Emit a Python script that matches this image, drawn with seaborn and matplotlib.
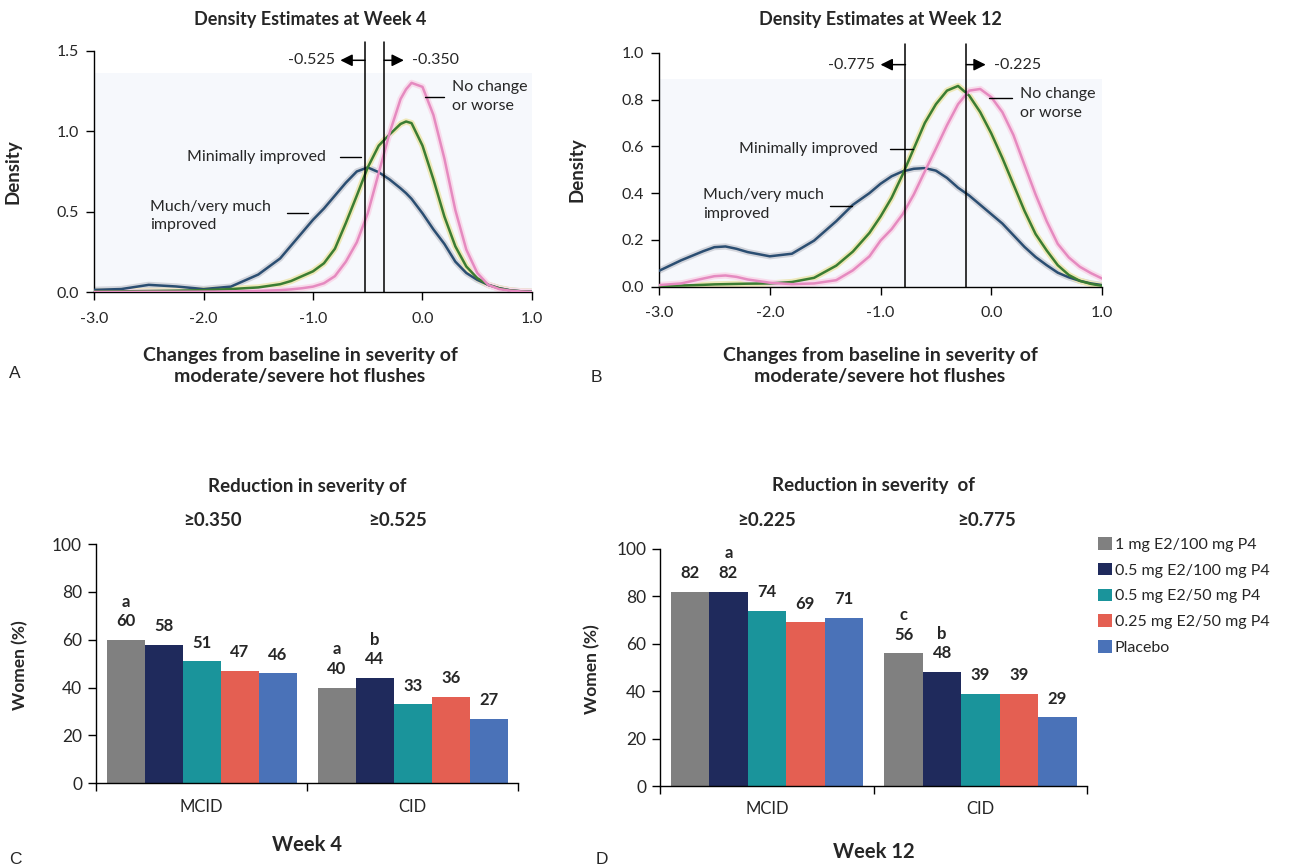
import pandas as pd
import seaborn as sns
import matplotlib.pyplot as plt

sns.set_style('ticks')
plt.rcParams['font.family'] = ['Lato', 'DejaVu Sans']

# ---- density curves, week 4 ----
x_wk4 = [-3, -2.75, -2.5, -2.25, -2, -1.75, -1.5, -1.3, -1.2, -1.1, -1.0, -0.9, -0.8, -0.7,
         -0.6, -0.5, -0.4, -0.3, -0.2, -0.15, -0.1, 0, 0.1, 0.2, 0.3, 0.4, 0.5, 0.6, 0.7, 0.8, 0.9, 1.0]
much_wk4 = [0.015, 0.02, 0.046, 0.036, 0.02, 0.035, 0.11, 0.21, 0.29, 0.37, 0.45, 0.52, 0.60, 0.68,
            0.75, 0.775, 0.745, 0.70, 0.645, 0.615, 0.58, 0.49, 0.39, 0.30, 0.19, 0.12, 0.077, 0.046,
            0.025, 0.012, 0.006, 0.003]
minimal_wk4 = [0.005, 0.006, 0.008, 0.01, 0.013, 0.02, 0.03, 0.05, 0.07, 0.10, 0.13, 0.18, 0.27, 0.43,
               0.60, 0.775, 0.91, 0.98, 1.045, 1.06, 1.05, 0.91, 0.70, 0.47, 0.285, 0.16, 0.088, 0.046,
               0.025, 0.012, 0.006, 0.003]
nochange_wk4 = [0.002, 0.002, 0.003, 0.003, 0.004, 0.005, 0.008, 0.013, 0.018, 0.025, 0.035, 0.056, 0.10,
                0.19, 0.31, 0.49, 0.74, 0.99, 1.20, 1.26, 1.30, 1.275, 1.10, 0.83, 0.51, 0.265, 0.12,
                0.046, 0.02, 0.01, 0.005, 0.002]

# ---- density curves, week 12 ----
x_wk12 = [-3, -2.8, -2.6, -2.5, -2.4, -2.3, -2.2, -2.0, -1.8, -1.6, -1.4, -1.25, -1.1, -1.0, -0.9,
          -0.8, -0.7, -0.6, -0.5, -0.4, -0.3, -0.2, -0.1, 0, 0.1, 0.2, 0.3, 0.4, 0.5, 0.6, 0.7, 0.8, 0.9, 1.0]
much_wk12 = [0.068, 0.113, 0.152, 0.169, 0.172, 0.162, 0.148, 0.13, 0.141, 0.197, 0.28, 0.35, 0.40,
             0.44, 0.472, 0.493, 0.504, 0.507, 0.496, 0.465, 0.423, 0.39, 0.35, 0.31, 0.27, 0.22, 0.17,
             0.127, 0.092, 0.06, 0.04, 0.025, 0.014, 0.007]
minimal_wk12 = [0.003, 0.005, 0.008, 0.01, 0.011, 0.012, 0.013, 0.014, 0.02, 0.038, 0.09, 0.15, 0.23,
                0.30, 0.38, 0.48, 0.59, 0.70, 0.78, 0.838, 0.858, 0.817, 0.746, 0.655, 0.55, 0.437,
                0.324, 0.225, 0.155, 0.092, 0.05, 0.025, 0.012, 0.004]
nochange_wk12 = [0.007, 0.014, 0.035, 0.045, 0.048, 0.042, 0.031, 0.017, 0.011, 0.014, 0.028, 0.07, 0.13,
                 0.197, 0.246, 0.31, 0.394, 0.493, 0.59, 0.69, 0.78, 0.838, 0.845, 0.81, 0.746, 0.648,
                 0.52, 0.394, 0.28, 0.183, 0.125, 0.085, 0.058, 0.035]

groups = ['Much/very much improved', 'Minimally improved', 'No change or worse']
core_pal = {'Much/very much improved': '#2b4e72', 'Minimally improved': '#3b7d32',
            'No change or worse': '#e58ac0'}
halo_pal = {'Much/very much improved': '#d3d5dc', 'Minimally improved': '#eee8b8',
            'No change or worse': '#f8dbeb'}

# ---- bar data ----
measures = ['MCID', 'CID']
treatments = ['1 mg E2/100 mg P4', '0.5 mg E2/100 mg P4', '0.5 mg E2/50 mg P4',
              '0.25 mg E2/50 mg P4', 'Placebo']
bar_colors = ['#808080', '#1f2a5c', '#1a949b', '#e45f52', '#4a72b8']
wk4_mcid = [60, 58, 51, 47, 46]
wk4_cid = [40, 44, 33, 36, 27]
wk4_mcid_sig = ['a', '', '', '', '']
wk4_cid_sig = ['a', 'b', '', '', '']
wk12_mcid = [82, 82, 74, 69, 71]
wk12_cid = [56, 48, 39, 39, 29]
wk12_mcid_sig = ['', 'a', '', '', '']
wk12_cid_sig = ['c', 'b', '', '', '']

fig = plt.figure(figsize=(12.95, 8.67), dpi=100)


def density_df(x, a, b, c):
    frames = []
    for g, y in zip(groups, [a, b, c]):
        frames.append(pd.DataFrame({'x': x, 'density': y, 'group': g}))
    return pd.concat(frames, ignore_index=True)


def density_panel(rect, df, ymax, ystep, shade_top, cut_left, cut_right, line_top, arrow_y,
                  left_tip, right_tip, labels):
    ax = fig.add_axes(rect)
    ax.axhspan(0, shade_top, facecolor='#f6f8fc', edgecolor='none', zorder=0)
    sns.lineplot(data=df, x='x', y='density', hue='group', palette=halo_pal, lw=4.5,
                 legend=False, ax=ax, zorder=2)
    sns.lineplot(data=df, x='x', y='density', hue='group', palette=core_pal, lw=1.8,
                 legend=False, ax=ax, zorder=3)
    ax.set_xlim(-3, 1)
    ax.set_ylim(0, ymax)
    ax.set_xticks([-3, -2, -1, 0, 1])
    ax.set_xticklabels(['-3.0', '-2.0', '-1.0', '0.0', '1.0'])
    yt = [round(i * ystep, 2) for i in range(int(round(ymax / ystep)) + 1)]
    ax.set_yticks(yt)
    ax.set_yticklabels([f'{v:.1f}' for v in yt])
    ax.tick_params(axis='both', labelsize=11.5, length=6, width=1, color='black', direction='out')
    ax.tick_params(axis='x', pad=8)
    ax.tick_params(axis='y', pad=5)
    for s in ['top', 'right']:
        ax.spines[s].set_visible(False)
    for s in ['left', 'bottom']:
        ax.spines[s].set_color('black')
        ax.spines[s].set_linewidth(1)
    ax.set_xlabel('')
    ax.set_ylabel('Density', fontsize=13.5, fontweight='bold')
    ax.yaxis.set_label_coords(-0.165, 0.5)
    # cut-off lines and arrows
    for cx in [cut_left, cut_right]:
        ax.plot([cx, cx], [0, line_top], color='black', lw=1.1, clip_on=False, zorder=4)
    arrow = dict(arrowstyle='-|>', color='black', lw=1.1, mutation_scale=18, shrinkA=0, shrinkB=0)
    ax.annotate('', xy=(left_tip, arrow_y), xytext=(cut_left, arrow_y), arrowprops=arrow,
                annotation_clip=False)
    ax.annotate('', xy=(right_tip, arrow_y), xytext=(cut_right, arrow_y), arrowprops=arrow,
                annotation_clip=False)
    ax.text(left_tip - 0.05, arrow_y, f'{cut_left:.3f}', ha='right', va='center', fontsize=11.5)
    ax.text(right_tip + 0.07, arrow_y, f'{cut_right:.3f}', ha='left', va='center', fontsize=11.5)
    # curve labels with leader lines
    for text, tx, ty, ha, lx0, lx1, ly in labels:
        ax.text(tx, ty, text, ha=ha, va='center', fontsize=11.5, linespacing=1.4)
        ax.plot([lx0, lx1], [ly, ly], color='black', lw=1.0, zorder=4)
    return ax


# panel A
df4 = density_df(x_wk4, much_wk4, minimal_wk4, nochange_wk4)
axA = density_panel([0.0726, 0.6629, 0.3382, 0.2787], df4, 1.5, 0.5, 1.36, -0.525, -0.350, 1.556, 1.44,
                    -0.75, -0.17,
                    [('No change\nor worse', 0.27, 1.215, 'left', 0.02, 0.195, 1.21),
                     ('Minimally improved', -0.88, 0.84, 'right', -0.75, -0.565, 0.84),
                     ('Much/very much\nimproved', -2.49, 0.475, 'left', -1.24, -1.05, 0.49)])
fig.text(310 / 1295, 0.978, 'Density Estimates at Week 4', ha='center', va='center',
         fontsize=13, fontweight='bold')
fig.text(300 / 1295, 1 - 366 / 867, 'Changes from baseline in severity of\nmoderate/severe hot flushes',
         ha='center', va='center', fontsize=14, fontweight='bold', linespacing=1.3)

# panel B
df12 = density_df(x_wk12, much_wk12, minimal_wk12, nochange_wk12)
axB = density_panel([0.5089, 0.6693, 0.3421, 0.2699], df12, 1.0, 0.2, 0.886, -0.775, -0.225, 1.036, 0.949,
                    -1.0, -0.05,
                    [('No change\nor worse', 0.255, 0.783, 'left', -0.018, 0.19, 0.807),
                     ('Minimally improved', -1.02, 0.59, 'right', -0.917, -0.71, 0.59),
                     ('Much/very much\nimproved', -2.6, 0.352, 'left', -1.456, -1.254, 0.346)])
fig.text(880 / 1295, 0.978, 'Density Estimates at Week 12', ha='center', va='center',
         fontsize=13, fontweight='bold')
fig.text(880 / 1295, 1 - 366 / 867, 'Changes from baseline in severity of\nmoderate/severe hot flushes',
         ha='center', va='center', fontsize=14, fontweight='bold', linespacing=1.3)


def bar_panel(rect, mcid, cid, mcid_sig, cid_sig, head, thresholds, thr_x, head_y, thr_y, week, week_y,
              ylab_x):
    ax = fig.add_axes(rect)
    df = pd.DataFrame({
        'measure': [m for m in measures for _ in treatments],
        'treatment': treatments * 2,
        'pct': mcid + cid,
        'sig': mcid_sig + cid_sig,
    })
    sns.barplot(data=df, x='measure', y='pct', hue='treatment', hue_order=treatments,
                palette=bar_colors, width=0.9, saturation=1, legend=False, ax=ax,
                edgecolor='none', linewidth=0)
    for i, cont in enumerate(ax.containers):
        for j, bar in enumerate(cont):
            xc = bar.get_x() + bar.get_width() / 2
            h = bar.get_height()
            sub = df[(df.treatment == treatments[i]) & (df.measure == measures[j])].iloc[0]
            ax.annotate(f'{sub.pct}', (xc, h), xytext=(0, 13.5), textcoords='offset points',
                        ha='center', va='center', fontsize=12, fontweight='bold')
            if sub.sig:
                ax.annotate(sub.sig, (xc, h), xytext=(0, 27.5), textcoords='offset points',
                            ha='center', va='center', fontsize=12, fontweight='bold')
    ax.set_xlim(-0.5, 1.5)
    ax.set_ylim(0, 100)
    ax.set_yticks(range(0, 101, 20))
    ax.set_xticks([0, 1])
    ax.set_xticklabels(measures)
    ax.set_xticks([-0.5, 0.5, 1.5], minor=True)
    ax.tick_params(axis='x', which='major', length=0, pad=11, labelsize=12)
    ax.tick_params(axis='x', which='minor', length=6, width=1, color='black', direction='out')
    ax.tick_params(axis='y', length=6, width=1, color='black', direction='out', labelsize=12.5, pad=4)
    for s in ['top', 'right']:
        ax.spines[s].set_visible(False)
    for s in ['left', 'bottom']:
        ax.spines[s].set_color('black')
        ax.spines[s].set_linewidth(1)
    ax.set_xlabel('')
    ax.set_ylabel('Women (%)', fontsize=12.5, fontweight='bold')
    ax.yaxis.set_label_coords(ylab_x, 0.494)
    ax.text(0.5, head_y, head, transform=ax.transAxes, ha='center', va='center',
            fontsize=13.5, fontweight='bold')
    for t, tx in zip(thresholds, thr_x):
        ax.text(tx, thr_y, t, transform=ax.get_xaxis_transform(), ha='center', va='center',
                fontsize=13.5, fontweight='bold')
    ax.text(0.5, week_y, week, transform=ax.transAxes, ha='center', va='center',
            fontsize=14.5, fontweight='bold')
    return ax


axC = bar_panel([0.0741, 0.0965, 0.3261, 0.276], wk4_mcid, wk4_cid, wk4_mcid_sig, wk4_cid_sig,
                'Reduction in severity of', ['≥0.350', '≥0.525'], [0.05, 0.93], 1.239, 1.10,
                'Week 4', -0.258, -0.16)
axD = bar_panel([0.5097, 0.0934, 0.33, 0.2734], wk12_mcid, wk12_cid, wk12_mcid_sig, wk12_cid_sig,
                'Reduction in severity  of', ['≥0.225', '≥0.775'], [0.0, 1.03], 1.266, 1.122,
                'Week 12', -0.278, -0.14)

handles = [plt.Rectangle((0, 0), 1, 1, facecolor=c, edgecolor='none') for c in bar_colors]
fig.legend(handles, treatments, loc='upper left', bbox_to_anchor=(1098 / 1295, 1 - 537 / 867),
           frameon=False, fontsize=11.5, handlelength=0.85, handleheight=0.85, handletextpad=0.2,
           labelspacing=0.68, borderpad=0, borderaxespad=0)

# panel letters
for letter, px, py in [('A', 15, 373), ('B', 596, 378), ('C', 15, 860), ('D', 602, 859)]:
    fig.text(px / 1295, 1 - py / 867, letter, ha='center', va='center', fontsize=12.5,
             family=['Liberation Sans', 'DejaVu Sans'])

fig.savefig('out.png', dpi=100)
